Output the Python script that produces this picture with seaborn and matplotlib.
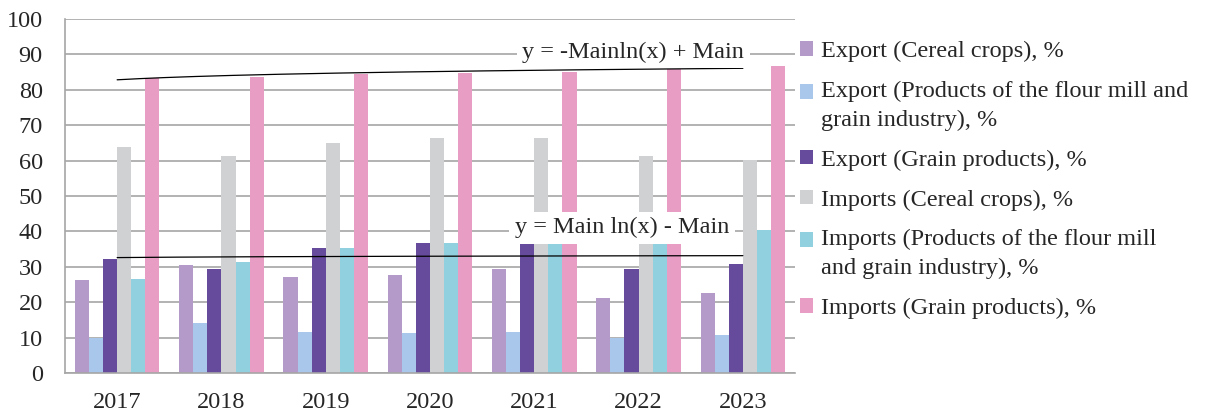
import numpy as np
import pandas as pd
import matplotlib
matplotlib.use("Agg")
import matplotlib.pyplot as plt
import seaborn as sns

# data
years = ["2017", "2018", "2019", "2020", "2021", "2022", "2023"]
series_names = [
    "Export (Cereal crops), %",
    "Export (Products of the flour mill and\ngrain industry), %",
    "Export (Grain products), %",
    "Imports (Cereal crops), %",
    "Imports (Products of the flour mill\nand grain industry), %",
    "Imports (Grain products), %",
]
export_cereal = [26.2, 30.5, 27.1, 27.7, 29.3, 21.3, 22.5]
export_flour = [10.0, 14.1, 11.6, 11.3, 11.5, 9.9, 10.7]
export_grain = [32.3, 29.4, 35.4, 36.7, 36.7, 29.4, 30.7]
import_cereal = [63.9, 61.4, 65.0, 66.4, 66.4, 61.4, 60.3]
import_flour = [26.5, 31.4, 35.4, 36.7, 36.7, 38.0, 40.4]
import_grain = [83.4, 83.5, 84.4, 84.8, 85.1, 86.0, 86.8]

colors = ["#B39AC9", "#A9C7EA", "#664A9B", "#D0D1D3", "#91D1DF", "#E89DC5"]

all_values = [export_cereal, export_flour, export_grain,
              import_cereal, import_flour, import_grain]
rows = []
for name, vals in zip(series_names, all_values):
    for yr, v in zip(years, vals):
        rows.append({"year": yr, "value": v, "series": name})
df = pd.DataFrame(rows)

sns.set_style("white")
plt.rcParams["font.family"] = ["Liberation Serif", "DejaVu Serif"]
plt.rcParams["font.size"] = 17.5

fig = plt.figure(figsize=(12.09, 4.12), dpi=100)
ax = fig.add_axes([65 / 1209, 1 - 373 / 412, (795 - 65) / 1209, (373 - 19) / 412])

sns.barplot(data=df, x="year", y="value", hue="series", palette=colors,
            width=0.81, saturation=1, linewidth=0, ax=ax, zorder=2)

# logarithmic trendlines (fit like Excel: y = a ln(x) + b)
xs = np.arange(1, len(years) + 1)
xf = np.linspace(1, len(years), 200)
for vals in (import_grain, export_grain):
    a, b = np.polyfit(np.log(xs), vals, 1)
    ax.plot(xf - 1, a * np.log(xf) + b, color="black", lw=0.9, zorder=4)

ax.text(4.95, 90.6, "y = -Mainln(x) + Main", ha="center", va="center",
        fontsize=17.5, zorder=5,
        bbox=dict(facecolor="white", edgecolor="none", pad=4))
ax.text(4.84, 41.0, "y = Main ln(x) - Main", ha="center", va="center",
        fontsize=17.5, zorder=5,
        bbox=dict(facecolor="white", edgecolor="none", pad=4))

ax.set_ylim(0, 100)
ax.set_xlim(-0.5, len(years) - 0.5)
ax.set_yticks(range(0, 101, 10))
ax.yaxis.grid(True, color="#A6A6A6", lw=1.2, zorder=0)
ax.set_axisbelow(True)
ax.set_xlabel("")
ax.set_ylabel("")

for s in ["top", "right"]:
    ax.spines[s].set_visible(False)
for s in ["left", "bottom"]:
    ax.spines[s].set_color("#A6A6A6")
    ax.spines[s].set_linewidth(1.2)

ax.set_xticks(np.arange(-0.5, len(years)), minor=True)
ax.tick_params(axis="x", which="major", length=0, pad=14)
ax.tick_params(axis="x", which="minor", length=6, color="#A6A6A6", width=1.2)
ax.tick_params(axis="y", length=7, color="#A6A6A6", width=1.2, pad=9)

handles, labels = ax.get_legend_handles_labels()
leg = ax.legend(handles, labels, loc="upper left", bbox_to_anchor=(1.0, 0.951),
                frameon=False, handlelength=0.55, handleheight=0.55,
                handletextpad=0.3, labelspacing=0.77, fontsize=17.5,
                borderaxespad=0.0, borderpad=0.2)
for t in leg.get_texts():
    t.set_linespacing(1.45)
# square markers sit next to the first line of wrapped labels
for h, lab in zip(leg.legend_handles, labels):
    if "\n" in lab:
        h.set_y(h.get_y() + 10)

fig.savefig("out.png", dpi=100)
